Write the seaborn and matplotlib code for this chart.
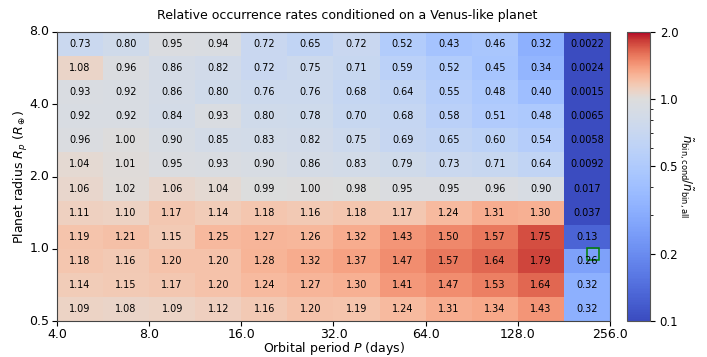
import numpy as np
import matplotlib
matplotlib.use("Agg")
import matplotlib.pyplot as plt
import seaborn as sns
from matplotlib.colors import LogNorm, ListedColormap

# Relative occurrence rates, rows from largest radius (top) to smallest (bottom),
# columns from shortest to longest orbital period
rates = np.array([
    [0.73, 0.80, 0.95, 0.94, 0.72, 0.65, 0.72, 0.52, 0.43, 0.46, 0.32, 0.0022],
    [1.08, 0.96, 0.86, 0.82, 0.72, 0.75, 0.71, 0.59, 0.52, 0.45, 0.34, 0.0024],
    [0.93, 0.92, 0.86, 0.80, 0.76, 0.76, 0.68, 0.64, 0.55, 0.48, 0.40, 0.0015],
    [0.92, 0.92, 0.84, 0.93, 0.80, 0.78, 0.70, 0.68, 0.58, 0.51, 0.48, 0.0065],
    [0.96, 1.00, 0.90, 0.85, 0.83, 0.82, 0.75, 0.69, 0.65, 0.60, 0.54, 0.0058],
    [1.04, 1.01, 0.95, 0.93, 0.90, 0.86, 0.83, 0.79, 0.73, 0.71, 0.64, 0.0092],
    [1.06, 1.02, 1.06, 1.04, 0.99, 1.00, 0.98, 0.95, 0.95, 0.96, 0.90, 0.017],
    [1.11, 1.10, 1.17, 1.14, 1.18, 1.16, 1.18, 1.17, 1.24, 1.31, 1.30, 0.037],
    [1.19, 1.21, 1.15, 1.25, 1.27, 1.26, 1.32, 1.43, 1.50, 1.57, 1.75, 0.13],
    [1.18, 1.16, 1.20, 1.20, 1.28, 1.32, 1.37, 1.47, 1.57, 1.64, 1.79, 0.26],
    [1.14, 1.15, 1.17, 1.20, 1.24, 1.27, 1.30, 1.41, 1.47, 1.53, 1.64, 0.32],
    [1.09, 1.08, 1.09, 1.12, 1.16, 1.20, 1.19, 1.24, 1.31, 1.34, 1.43, 0.32],
])

period_ticks = [4.0, 8.0, 16.0, 32.0, 64.0, 128.0, 256.0]
radius_ticks = [0.5, 1.0, 2.0, 4.0, 8.0]
cbar_ticks = [0.1, 0.2, 0.5, 1.0, 2.0]

# Venus location
venus_P = 224.7
venus_R = 0.949

vmin, vmax, vcenter = 0.1, 2.0, 1.0

labels = np.array([[f"{v:.2f}" if v >= 0.1 else f"{v:.2g}" for v in row] for row in rates])

# coolwarm re-mapped so that 1.0 sits at the neutral colour on a log scale
base = plt.get_cmap("coolwarm")
p = np.linspace(0, 1, 512)
pc = np.log(vcenter / vmin) / np.log(vmax / vmin)
c = np.where(p < pc, 0.5 * p / pc, 0.5 + 0.5 * (p - pc) / (1 - pc))
cmap = ListedColormap(base(c))

fig = plt.figure(figsize=(7.07, 3.57), dpi=100)
ax = fig.add_axes([0.0806, 0.1008, 0.7822, 0.8096])
cax = fig.add_axes([0.8868, 0.1008, 0.0326, 0.8096])

sns.heatmap(rates, ax=ax, cbar_ax=cax, cmap=cmap, norm=LogNorm(vmin=vmin, vmax=vmax),
            annot=labels, fmt="", annot_kws=dict(color="black", fontsize=7))

ncols = rates.shape[1]
nrows = rates.shape[0]
P0, P1 = period_ticks[0], period_ticks[-1]
R0, R1 = radius_ticks[0], radius_ticks[-1]

def xpos(P):
    return ncols * np.log(P / P0) / np.log(P1 / P0)

def ypos(R):
    return nrows - nrows * np.log(R / R0) / np.log(R1 / R0)

ax.set_xticks([xpos(t) for t in period_ticks])
ax.set_xticklabels([f"{t:.1f}" for t in period_ticks], rotation=0, fontsize=9)
ax.set_yticks([ypos(t) for t in radius_ticks])
ax.set_yticklabels([f"{t:.1f}" for t in radius_ticks], rotation=0, fontsize=9)
ax.tick_params(length=3.5, width=0.8, pad=2)
ax.tick_params(axis="x", pad=1.5)

for s in ax.spines.values():
    s.set_visible(True)
    s.set_linewidth(0.8)
    s.set_color("#444444")

ax.plot([xpos(venus_P)], [ypos(venus_R)], marker="s", ms=8.5, mfc="none",
        mec="green", mew=1.1, ls="none")

ax.set_xlabel(r"Orbital period $P$ (days)", fontsize=9, labelpad=-0.5)
ax.set_ylabel(r"Planet radius $R_p$ ($R_\oplus$)", fontsize=9, labelpad=-0.5)

cb = ax.collections[0].colorbar
cb.set_ticks(cbar_ticks)
cb.set_ticklabels([f"{t:.1f}" for t in cbar_ticks])
cb.ax.tick_params(labelsize=8.5, length=3.5, width=0.8)
cb.ax.tick_params(which="minor", length=2, width=0.6)
cb.outline.set_edgecolor("#555555")
cb.outline.set_linewidth(0.8)
cb.set_label(r"$\tilde{n}_{\rm bin,cond}/\tilde{n}_{\rm bin,all}$", rotation=270,
             fontsize=8.5, labelpad=12)

fig.suptitle("Relative occurrence rates conditioned on a Venus-like planet",
             fontsize=9, x=0.491, y=0.975)

fig.savefig("out.png", dpi=100)
